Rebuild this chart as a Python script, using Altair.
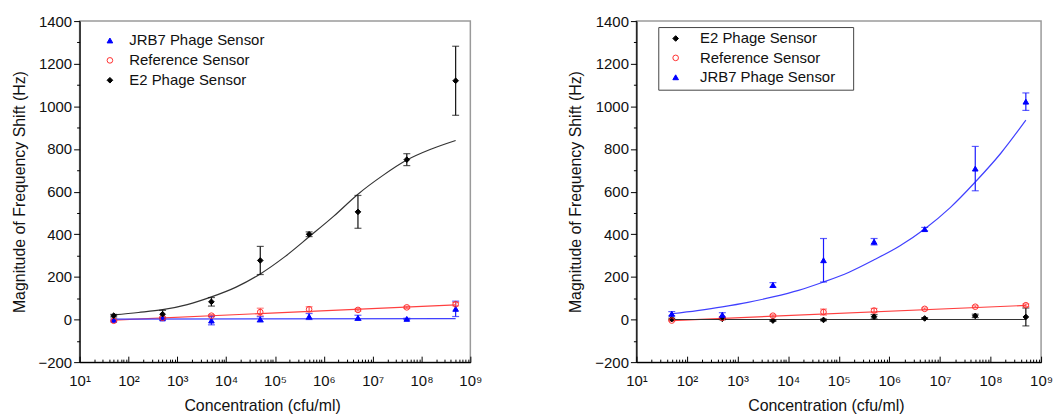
import altair as alt
import pandas as pd

# ---------------- data ----------------
CONC = [5e1, 5e2, 5e3, 5e4, 5e5, 5e6, 5e7, 5e8]
FIT_X = [5e1, 1.6e2, 5e2, 1.6e3, 5e3, 1.6e4, 5e4, 1.6e5, 5e5, 1.6e6, 5e6, 1.6e7, 5e7, 1.6e8, 5e8]
LIN_X = [5e1, 5e8]

JRB7 = "JRB7 Phage Sensor"
REF = "Reference Sensor"
E2 = "E2 Phage Sensor"

# Left panel
L_JRB7 = [-2, 5, -5, 1, 14, 8, 3, 50]
L_JRB7_ERR = [4, 5, 20, 12, 14, 12, 3, 36]
L_REF = [-6, 8, 18, 35, 48, 45, 57, 72]
L_REF_ERR = [3, 4, 5, 18, 12, 5, 5, 8]
L_E2 = [18, 25, 83, 277, 400, 505, 750, 1120]
L_E2_ERR = [6, 18, 20, 66, 11, 77, 28, 162]
L_E2_FIT = [22, 33, 46, 70, 106, 152, 214, 295, 388, 485, 588, 675, 748, 800, 840]
L_REF_FIT = [-3, 69]
L_JRB7_FIT = [2, 4]

# Right panel
R_E2 = [2, 3, -5, -2, 13, 5, 17, 12]
R_E2_ERR = [4, 4, 4, 4, 10, 4, 8, 42]
R_REF = [-5, 8, 18, 35, 42, 50, 60, 67]
R_REF_ERR = [3, 3, 4, 14, 10, 4, 4, 6]
R_JRB7 = [27, 22, 162, 278, 365, 424, 708, 1022]
R_JRB7_ERR = [10, 10, 11, 102, 15, 8, 104, 41]
R_JRB7_FIT = [27, 42, 59, 80, 106, 137, 176, 222, 280, 345, 425, 525, 645, 780, 935]
R_REF_FIT = [-5, 66]
R_E2_FIT = [0, 0]

X_MAJOR = [1e1, 1e2, 1e3, 1e4, 1e5, 1e6, 1e7, 1e8, 1e9]
X_MINOR = [m * d for d in X_MAJOR[:-1] for m in range(2, 10)]
Y_MAJOR = list(range(-200, 1401, 200))
Y_MINOR = list(range(-100, 1400, 200))

PT_STROKE = {JRB7: "#0000ff", REF: "#ff3030", E2: "#000000"}
PT_FILL = {JRB7: "#0000ff", REF: "transparent", E2: "#000000"}
PT_SHAPE = {JRB7: "triangle-up", REF: "circle", E2: "diamond"}
LINE_COL = {JRB7: "#4040ff", REF: "#ff4040", E2: "#333333"}
ERR_COL = {JRB7: "#1a1aff", REF: "#ff5050", E2: "#111111"}

FONT = "Liberation Sans"
H = 343


def make_points(series_vals):
    rows = []
    for name, vals, errs in series_vals:
        for x, v, e in zip(CONC, vals, errs):
            rows.append({"series": name, "x": x, "y": v, "lo": v - e, "hi": v + e,
                         "ckey": "err:" + name})
    return pd.DataFrame(rows)


def make_fits(fit_vals):
    rows = []
    for name, xs, vals in fit_vals:
        for i, (x, v) in enumerate(zip(xs, vals)):
            rows.append({"series": name, "x": x, "y": v, "i": i, "ckey": "fit:" + name})
    return pd.DataFrame(rows)


def panel(order, pts, fits, W, legend):
    xs = alt.Scale(type="log", domain=[10, 1e9], nice=False)
    ys = alt.Scale(domain=[-200, 1400], nice=False, zero=False)

    ckeys = ["fit:" + s for s in order] + ["err:" + s for s in order]
    crange = [LINE_COL[s] for s in order] + [ERR_COL[s] for s in order]
    cscale = alt.Scale(domain=ckeys, range=crange)

    sup = "['\u2070','\u00b9','\u00b2','\u00b3','\u2074','\u2075','\u2076','\u2077','\u2078','\u2079']"
    bottom_axis = alt.Axis(orient="bottom", values=X_MAJOR, ticks=False, grid=False,
                           labelExpr="'10' + " + sup + "[round(log(datum.value)/LN10)]",
                           labelFontSize=15, labelPadding=11, labelFlush=False, labelOverlap=False,
                           labelColor="#111", domainColor="#000", domainWidth=1.3,
                           title="Concentration (cfu/ml)", titleFontSize=16,
                           titleFontWeight="normal", titleColor="#111", titlePadding=10,
                           titleX=W / 2 - 13)
    top_major = alt.Axis(orient="top", values=X_MAJOR, offset=-H, labels=False, domain=False,
                         tickSize=6, tickColor="#000", grid=False, title=None)
    top_minor = alt.Axis(orient="top", values=X_MINOR, offset=-H, labels=False, domain=False,
                         tickSize=3, tickColor="#000", grid=False, title=None)
    left_major = alt.Axis(orient="left", values=Y_MAJOR, tickSize=6, tickColor="#000",
                          labelPadding=2, labelFontSize=15, labelColor="#111", format="d",
                          domainColor="#000", domainWidth=1.3, grid=False,
                          title="Magnitude of Frequency Shift (Hz)", titleFontSize=16,
                          titleFontWeight="normal", titleColor="#111", titlePadding=11)
    left_minor = alt.Axis(orient="left", values=Y_MINOR, tickSize=3, tickColor="#000",
                          labels=False, domain=False, grid=False, title=None)

    base = alt.Chart(pts)
    ax1 = base.mark_point(opacity=0).encode(
        x=alt.X("x:Q", scale=xs, axis=bottom_axis),
        y=alt.Y("y:Q", scale=ys, axis=left_major))
    ax2 = base.mark_point(opacity=0).encode(
        x=alt.X("x:Q", scale=xs, axis=top_major),
        y=alt.Y("y:Q", scale=ys, axis=left_minor))
    ax3 = base.mark_point(opacity=0).encode(
        x=alt.X("x:Q", scale=xs, axis=top_minor),
        y=alt.Y("y:Q", scale=ys, axis=None))

    lines = alt.Chart(fits).mark_line(strokeWidth=1.2, interpolate="monotone").encode(
        x=alt.X("x:Q", scale=xs, axis=None),
        y=alt.Y("y:Q", scale=ys, axis=None),
        color=alt.Color("ckey:N", scale=cscale, legend=None),
        detail="series:N",
        order="i:Q")

    rules = base.mark_rule(strokeWidth=1.2).encode(
        x=alt.X("x:Q", scale=xs, axis=None),
        y=alt.Y("lo:Q", scale=ys, axis=None),
        y2="hi:Q",
        color=alt.Color("ckey:N", scale=cscale, legend=None))
    cap_lo = base.mark_tick(orient="horizontal", size=7, thickness=1.2).encode(
        x=alt.X("x:Q", scale=xs, axis=None),
        y=alt.Y("lo:Q", scale=ys, axis=None),
        color=alt.Color("ckey:N", scale=cscale, legend=None))
    cap_hi = base.mark_tick(orient="horizontal", size=7, thickness=1.2).encode(
        x=alt.X("x:Q", scale=xs, axis=None),
        y=alt.Y("hi:Q", scale=ys, axis=None),
        color=alt.Color("ckey:N", scale=cscale, legend=None))

    points = base.mark_point(filled=True, size=32, strokeWidth=1, opacity=1).encode(
        x=alt.X("x:Q", scale=xs, axis=None),
        y=alt.Y("y:Q", scale=ys, axis=None),
        stroke=alt.Stroke("series:N", scale=alt.Scale(domain=order, range=[PT_STROKE[s] for s in order]), legend=legend),
        fill=alt.Fill("series:N", scale=alt.Scale(domain=order, range=[PT_FILL[s] for s in order]), legend=legend),
        shape=alt.Shape("series:N", scale=alt.Scale(domain=order, range=[PT_SHAPE[s] for s in order]), legend=legend))

    return alt.layer(ax1, ax2, ax3, lines, rules, cap_lo, cap_hi, points).resolve_axis(
        x="independent", y="independent").properties(width=W, height=H)


left_order = [JRB7, REF, E2]
right_order = [E2, REF, JRB7]

left_pts = make_points([(JRB7, L_JRB7, L_JRB7_ERR), (REF, L_REF, L_REF_ERR), (E2, L_E2, L_E2_ERR)])
left_fit = make_fits([(E2, FIT_X, L_E2_FIT), (REF, LIN_X, L_REF_FIT), (JRB7, LIN_X, L_JRB7_FIT)])
right_pts = make_points([(E2, R_E2, R_E2_ERR), (REF, R_REF, R_REF_ERR), (JRB7, R_JRB7, R_JRB7_ERR)])
right_fit = make_fits([(JRB7, FIT_X, R_JRB7_FIT), (REF, LIN_X, R_REF_FIT), (E2, LIN_X, R_E2_FIT)])

left_legend = alt.Legend(title=None, orient="none", legendX=23, legendY=12, padding=0,
                         labelFontSize=15, labelColor="#111", symbolSize=32, symbolStrokeWidth=1,
                         rowPadding=4, labelOffset=12, labelLimit=400)
right_legend = alt.Legend(title="\u00a0", titleOrient="right", titlePadding=14, titleFontSize=2,
                          orient="none", legendX=22, legendY=6, padding=4,
                          strokeColor="#444", fillColor="white", symbolOffset=6,
                          labelFontSize=15, labelColor="#111", symbolSize=32, symbolStrokeWidth=1,
                          rowPadding=3.5, labelOffset=17, labelLimit=400)

left = panel(left_order, left_pts, left_fit, 393, left_legend)
right = panel(right_order, right_pts, right_fit, 407, right_legend)

chart = alt.hconcat(left, right, spacing=84).resolve_scale(
    stroke="independent", fill="independent", shape="independent", color="independent"
).properties(
    padding={"left": 2, "top": 4, "right": 0, "bottom": 0}
).configure_axis(
    labelFont=FONT, titleFont=FONT
).configure_legend(
    labelFont=FONT
).configure_view(
    stroke="#9a9a9a", strokeWidth=1.5
)

chart.save("out.html", embed_options={"renderer": "svg", "actions": False})
